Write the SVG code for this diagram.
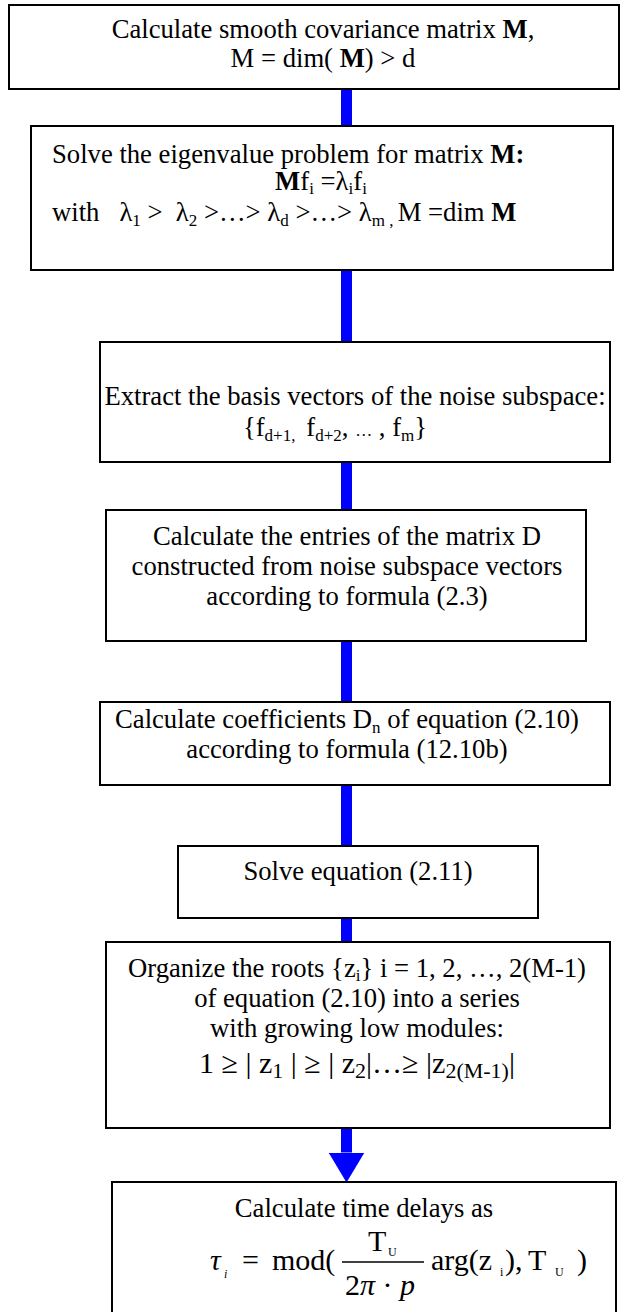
<svg xmlns="http://www.w3.org/2000/svg" width="621" height="1312" viewBox="0 0 621 1312">
<style>
.box{fill:#fff;stroke:#000;stroke-width:2}
text{font-family:"Liberation Serif","Times New Roman",serif;font-size:26.67px;fill:#000}
.m{text-anchor:middle}
.b{font-weight:bold}
.sub{font-size:17px}
.big{font-size:30px}
.it{font-style:italic}
.tiny{font-size:12px}
.conn{stroke:#0000ff;stroke-width:11;fill:none}
</style>
<defs>
<marker id="ah" markerUnits="userSpaceOnUse" viewBox="0 0 30 36" refX="0" refY="18" markerWidth="30" markerHeight="36" orient="auto">
<path d="M0,0 L30,18 L0,36 z" fill="#0000ff"/>
</marker>
</defs>
<rect width="621" height="1312" fill="#fff"/>
<g id="connectors">
<line class="conn" x1="346.5" y1="89" x2="346.5" y2="126"/>
<line class="conn" x1="346.5" y1="270" x2="346.5" y2="342"/>
<line class="conn" x1="346.5" y1="462" x2="346.5" y2="510"/>
<line class="conn" x1="346.5" y1="641" x2="346.5" y2="702"/>
<line class="conn" x1="346.5" y1="785" x2="346.5" y2="846"/>
<line class="conn" x1="346.5" y1="918" x2="346.5" y2="942"/>
<path class="conn" d="M346.5,1128 L346.5,1152.5" marker-end="url(#ah)"/>
</g>
<g id="n1">
<rect class="box" x="9" y="5" width="610" height="84"/>
<text class="m" x="323" y="38">Calculate smooth covariance matrix <tspan class="b">M</tspan>,</text>
<text class="m" x="323" y="67">M = dim( <tspan class="b">M</tspan>) &gt; d</text>
</g>
<g id="n2">
<rect class="box" x="31" y="126" width="582" height="144"/>
<text x="52" y="163">Solve the eigenvalue problem for matrix <tspan class="b">M:</tspan></text>
<text class="m" x="321" y="190"><tspan class="b">M</tspan>f<tspan class="sub" dy="4">i</tspan><tspan dy="-4"> =λ</tspan><tspan class="sub" dy="4">i</tspan><tspan dy="-4">f</tspan><tspan class="sub" dy="4">i</tspan></text>
<text x="52" y="221" xml:space="preserve">with   λ<tspan class="sub" dy="5">1</tspan><tspan dy="-5"> &gt;  λ</tspan><tspan class="sub" dy="5">2</tspan><tspan dy="-5"> &gt;…&gt; λ</tspan><tspan class="sub" dy="5">d</tspan><tspan dy="-5"> &gt;…&gt; λ</tspan><tspan class="sub" dy="5">m , </tspan><tspan dy="-5">M =dim </tspan><tspan class="b">M</tspan></text>
</g>
<g id="n3">
<rect class="box" x="100" y="342" width="510" height="120"/>
<text class="m" x="355" y="405">Extract the basis vectors of the noise subspace:</text>
<text class="m" x="335" y="436" xml:space="preserve">{f<tspan class="sub" dy="5">d+1, </tspan><tspan dy="-5"> f</tspan><tspan class="sub" dy="5">d+2</tspan><tspan dy="-5">, </tspan><tspan class="sub">…</tspan><tspan> , f</tspan><tspan class="sub" dy="5">m</tspan><tspan dy="-5">}</tspan></text>
</g>
<g id="n4">
<rect class="box" x="106" y="510" width="480" height="131"/>
<text class="m" x="347" y="545">Calculate the entries of the matrix D</text>
<text class="m" x="347" y="575">constructed from noise subspace vectors</text>
<text class="m" x="347" y="605">according to formula (2.3)</text>
</g>
<g id="n5">
<rect class="box" x="100" y="702" width="510" height="83"/>
<text class="m" x="347" y="728">Calculate coefficients D<tspan class="sub" dy="5">n</tspan><tspan dy="-5"> of equation (2.10)</tspan></text>
<text class="m" x="347" y="758">according to formula (12.10b)</text>
</g>
<g id="n6">
<rect class="box" x="178" y="846" width="360" height="72"/>
<text class="m" x="358" y="880">Solve equation (2.11)</text>
</g>
<g id="n7">
<rect class="box" x="106" y="942" width="504" height="186"/>
<text class="m" x="357" y="977">Organize the roots {z<tspan class="sub" dy="4">i</tspan><tspan dy="-4">} i = 1, 2, …, 2(M-1)</tspan></text>
<text class="m" x="357" y="1007">of equation (2.10) into a series</text>
<text class="m" x="357" y="1037">with growing low modules:</text>
<text class="m big" x="357" y="1073" xml:space="preserve">1 ≥ | z<tspan font-size="22" dy="5">1</tspan><tspan dy="-5"> | ≥ | z</tspan><tspan font-size="22" dy="5">2</tspan><tspan dy="-5">|…≥ |z</tspan><tspan font-size="22" dy="5">2(M-1)</tspan><tspan dy="-5">|</tspan></text>
</g>
<g id="n8">
<rect class="box" x="112" y="1182" width="504" height="150"/>
<text class="m" x="364" y="1217">Calculate time delays as</text>
<text class="big it" x="210" y="1270">τ</text>
<text class="tiny it" x="224" y="1278">i</text>
<text class="big" x="242" y="1270">=</text>
<text class="big" x="272" y="1270">mod(</text>
<line x1="342" y1="1262" x2="424" y2="1262" stroke="#000" stroke-width="1.5"/>
<text class="big" x="368" y="1251">T</text>
<text class="tiny" x="388" y="1256">U</text>
<text class="big" x="345" y="1295">2<tspan class="it">π</tspan> · <tspan class="it">p</tspan></text>
<text class="big" x="431" y="1270">arg(z</text>
<text class="tiny" x="500" y="1276">i</text>
<text class="big" x="505" y="1270">),</text>
<text class="big" x="528" y="1270">T</text>
<text class="tiny" x="555" y="1276">U</text>
<text class="big" x="577" y="1270">)</text>
</g>
</svg>
